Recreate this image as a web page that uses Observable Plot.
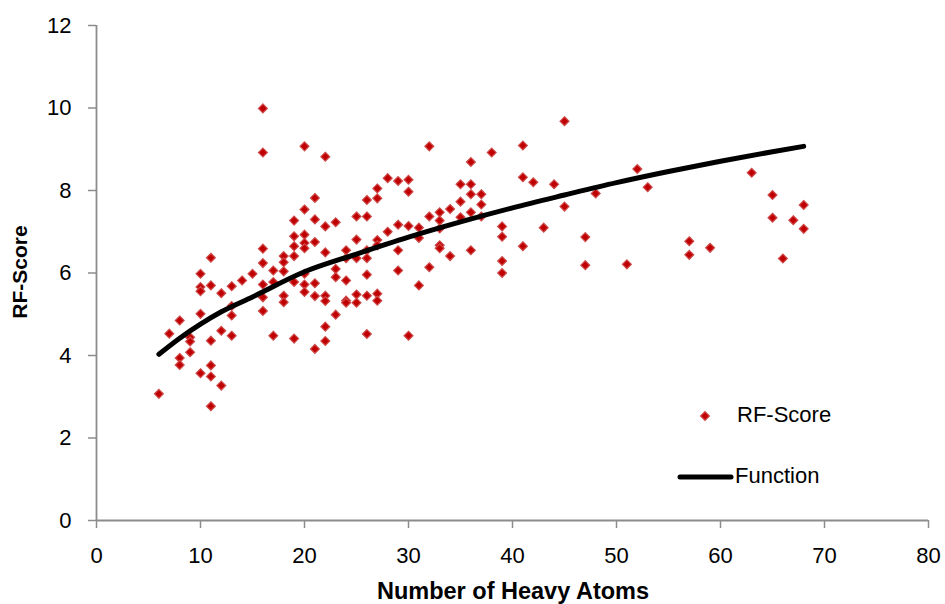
<!DOCTYPE html>
<html>
<head>
<meta charset="utf-8">
<script src="https://cdn.jsdelivr.net/npm/d3@7"></script>
<script src="https://cdn.jsdelivr.net/npm/@observablehq/plot@0.6"></script>
<style>
  html, body { margin: 0; padding: 0; background: #fff; }
  #chart { width: 945px; height: 604px; position: relative; }
</style>
</head>
<body>
<div id="chart"></div>
<script>
// ---- Data ----
const heavyAtoms = [
  6,
  7,
  8, 8, 8,
  9, 9, 9,
  10, 10, 10, 10, 10,
  11, 11, 11, 11, 11, 11,
  12, 12, 12,
  13, 13, 13, 13,
  14,
  15,
  16, 16, 16, 16, 16, 16, 16,
  17, 17, 17,
  18, 18, 18, 18, 18,
  19, 19, 19, 19, 19, 19,
  20, 20, 20, 20, 20, 20, 20, 20,
  21, 21, 21, 21, 21, 21,
  22, 22, 22, 22, 22, 22, 22,
  23, 23, 23, 23,
  24, 24, 24, 24, 24,
  25, 25, 25, 25, 25,
  26, 26, 26, 26, 26, 26, 26,
  27, 27, 27, 27, 27, 27,
  28, 28,
  29, 29, 29, 29,
  30, 30, 30, 30,
  31, 31, 31,
  32, 32, 32,
  33, 33, 33, 33, 33,
  34, 34,
  35, 35, 35,
  36, 36, 36, 36, 36,
  37, 37, 37,
  38,
  39, 39, 39, 39,
  41, 41, 41,
  42,
  43,
  44,
  45, 45,
  47, 47,
  48,
  51,
  52,
  53,
  57, 57,
  59,
  63,
  65, 65,
  66,
  67,
  68, 68
];
const rfScore = [
  3.07,
  4.53,
  4.85, 3.94, 3.77,
  4.44, 4.34, 4.08,
  5.98, 5.66, 5.56, 5.01, 3.57,
  6.37, 5.70, 4.36, 3.76, 3.49, 2.77,
  5.51, 4.60, 3.27,
  5.68, 5.20, 4.97, 4.48,
  5.82,
  5.98,
  9.99, 8.92, 6.59, 6.24, 5.72, 5.41, 5.08,
  6.06, 5.78, 4.48,
  6.41, 6.26, 6.04, 5.45, 5.29,
  7.27, 6.89, 6.65, 6.41, 5.78, 4.41,
  9.07, 7.54, 6.93, 6.73, 6.60, 5.98, 5.72, 5.54,
  7.82, 7.30, 6.75, 5.75, 5.44, 4.16,
  8.82, 7.13, 6.50, 5.45, 5.32, 4.70, 4.35,
  7.23, 6.10, 5.90, 4.99,
  6.55, 6.36, 5.82, 5.33, 5.28,
  7.37, 6.81, 6.36, 5.48, 5.28,
  7.77, 7.37, 6.55, 6.36, 5.96, 5.45, 4.52,
  8.05, 7.81, 6.80, 6.67, 5.50, 5.33,
  8.30, 7.00,
  8.23, 7.17, 6.55, 6.06,
  8.26, 7.97, 7.14, 4.48,
  7.10, 6.85, 5.70,
  9.07, 7.37, 6.14,
  7.47, 7.27, 7.08, 6.67, 6.60,
  7.55, 6.41,
  8.15, 7.73, 7.35,
  8.69, 8.15, 7.91, 7.47, 6.55,
  7.91, 7.66, 7.37,
  8.92,
  7.13, 6.88, 6.29, 6.00,
  9.09, 8.32, 6.65,
  8.20,
  7.10,
  8.15,
  9.68, 7.61,
  6.87, 6.19,
  7.93,
  6.21,
  8.52,
  8.08,
  6.77, 6.44,
  6.61,
  8.43,
  7.89, 7.34,
  6.35,
  7.28,
  7.65, 7.07
];
const functionX = [6, 8, 10, 12, 15, 20, 25, 30, 35, 40, 45, 50, 55, 60, 65, 68];
const functionY = [4.03, 4.42, 4.76, 5.06, 5.42, 6.03, 6.46, 6.87, 7.24, 7.58, 7.89, 8.19, 8.46, 8.71, 8.94, 9.07];
const xTicks = [0, 10, 20, 30, 40, 50, 60, 70, 80];
const yTicks = [0, 2, 4, 6, 8, 10, 12];
const xTitle = "Number of Heavy Atoms";
const yTitle = "RF-Score";
const seriesNames = ["RF-Score", "Function"];

// ---- Build tables ----
const points = heavyAtoms.map((x, i) => ({x, y: rfScore[i]}));
const fnRows = functionX.map((x, i) => ({x, y: functionY[i]}));

const FONT = "'Liberation Sans', Arial, sans-serif";
const axisGray = "#8c8c8c";
const red = "#c00000";

const chart = Plot.plot({
  width: 945,
  height: 604,
  marginLeft: 96,
  marginRight: 17,
  marginTop: 25,
  marginBottom: 84,
  style: {fontFamily: FONT, fontSize: "22px", background: "#fff", color: "#000"},
  x: {domain: [0, 80]},
  y: {domain: [0, 12]},
  marks: [
    Plot.axisX({ticks: xTicks, tickSize: 8, tickPadding: 19, stroke: axisGray, strokeWidth: 1.5, fill: "#000", label: null, fontSize: 22}),
    Plot.axisY({ticks: yTicks, tickSize: 8, tickPadding: 17, stroke: axisGray, strokeWidth: 1.5, fill: "#000", label: null, fontSize: 22}),
    Plot.ruleY([0], {stroke: axisGray, strokeWidth: 1.8}),
    Plot.ruleX([0], {stroke: axisGray, strokeWidth: 1.8}),
    Plot.dot(points, {x: "x", y: "y", symbol: "diamond2", r: 4, fill: red, stroke: "#cf4a4a", strokeWidth: 1.2}),
    Plot.line(fnRows, {x: "x", y: "y", curve: "monotone-x", stroke: "#000", strokeWidth: 5, strokeLinecap: "round", strokeLinejoin: "round"})
  ]
});

document.getElementById("chart").appendChild(chart);

// ---- Titles and legend ----
const svg = d3.select(chart);
svg.append("text")
  .attr("x", 513).attr("y", 593)
  .attr("text-anchor", "middle").attr("dominant-baseline", "middle")
  .style("font-family", FONT).style("font-weight", "bold").style("font-size", "23.5px")
  .attr("fill", "#000")
  .text(xTitle);
svg.append("text")
  .attr("transform", "translate(21,272) rotate(-90)")
  .attr("text-anchor", "middle").attr("dominant-baseline", "middle")
  .style("font-family", FONT).style("font-weight", "bold").style("font-size", "21px")
  .attr("fill", "#000")
  .text(yTitle);

const leg = svg.append("g").attr("text-anchor", "start");
leg.append("path")
  .attr("transform", "translate(705,416)")
  .attr("d", d3.symbol(d3.symbolDiamond2, Math.PI * 4 * 4)())
  .attr("fill", red).attr("stroke", "#cf4a4a").attr("stroke-width", 1.2);
leg.append("text")
  .attr("x", 737).attr("y", 416).attr("dominant-baseline", "middle")
  .attr("text-anchor", "start")
  .style("font-family", FONT).style("font-size", "22px").attr("fill", "#000")
  .text(seriesNames[0]);
leg.append("line")
  .attr("x1", 680).attr("x2", 731).attr("y1", 477).attr("y2", 477)
  .attr("stroke", "#000").attr("stroke-width", 5).attr("stroke-linecap", "round");
leg.append("text")
  .attr("x", 735).attr("y", 477).attr("dominant-baseline", "middle")
  .attr("text-anchor", "start")
  .style("font-family", FONT).style("font-size", "22px").attr("fill", "#000")
  .text(seriesNames[1]);
</script>
</body>
</html>
